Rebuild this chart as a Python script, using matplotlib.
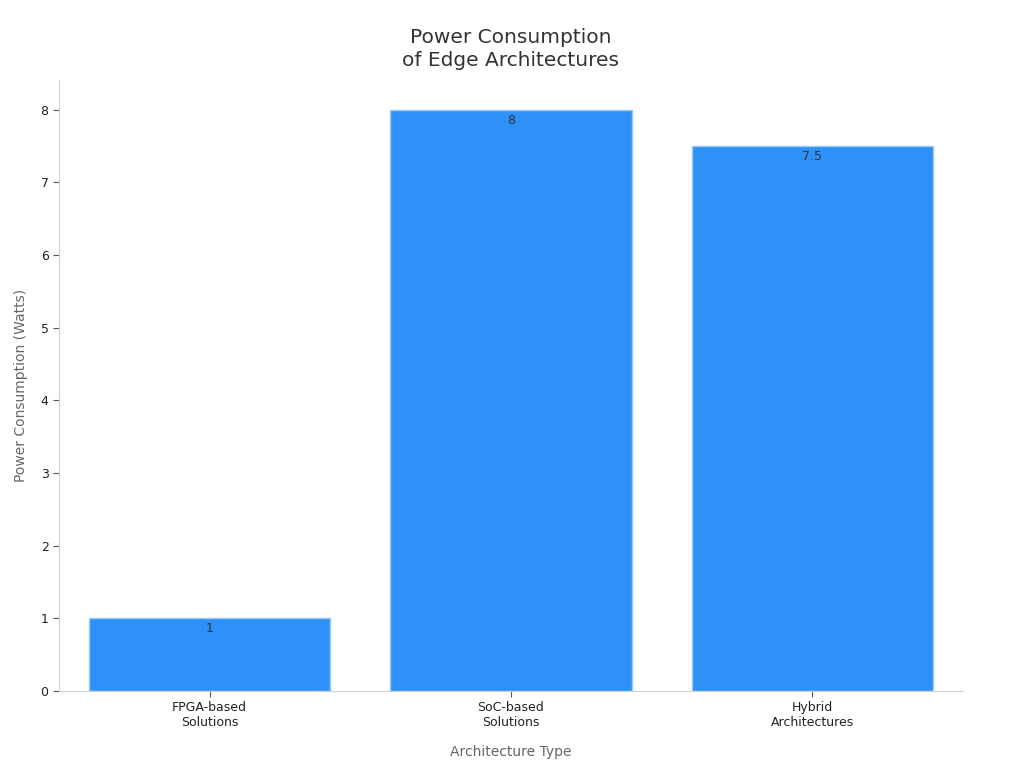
import matplotlib
matplotlib.use("Agg")
import matplotlib.pyplot as plt

# data
categories = ["FPGA-based\nSolutions", "SoC-based\nSolutions", "Hybrid\nArchitectures"]
power = [1, 8, 7.5]
value_labels = ["1", "8", "7.5"]

fig = plt.figure(figsize=(10.24, 7.68), dpi=100)
ax = fig.add_axes([0.0576, 0.1003, 0.8828, 0.7955])

bars = ax.bar(range(len(categories)), power, width=0.8, color="#2e91f8",
              edgecolor="#9ccaf5", linewidth=1)

for b, lab in zip(bars, value_labels):
    ax.annotate(lab, (b.get_x() + b.get_width() / 2, b.get_height()),
                xytext=(0, -3), textcoords="offset points",
                ha="center", va="top", fontsize=9, color="#333333")

ax.set_xlim(-0.5, 2.5)
ax.set_ylim(0, 8.41)
ax.set_xticks(range(len(categories)))
ax.set_xticklabels(categories, fontsize=9, color="#222222")
ax.set_yticks(range(0, 9))
ax.tick_params(axis="y", labelsize=9, colors="#222222", length=4, color="#555555")
ax.tick_params(axis="x", length=4, color="#555555")

for s in ["top", "right"]:
    ax.spines[s].set_visible(False)
for s in ["left", "bottom"]:
    ax.spines[s].set_color("#d0d0d0")

ax.set_xlabel("Architecture Type", fontsize=10, color="#666666", labelpad=11)
ax.set_ylabel("Power Consumption (Watts)", fontsize=10, color="#666666", labelpad=9)
ax.set_title("Power Consumption\nof Edge Architectures", fontsize=14.5, color="#333333",
             pad=10, linespacing=1.3)

fig.savefig("out.png", dpi=100)
